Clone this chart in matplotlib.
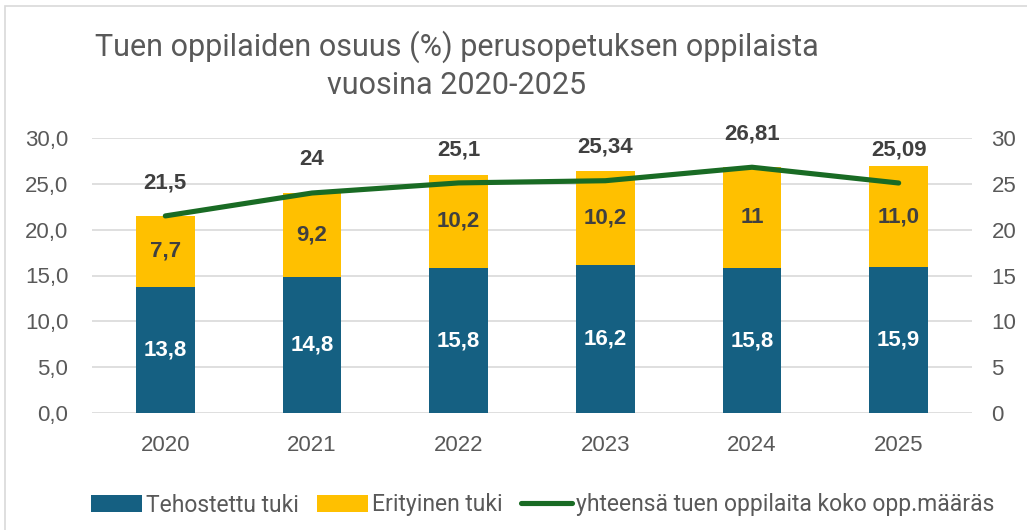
import numpy as np
import matplotlib
matplotlib.use('Agg')
import matplotlib.pyplot as plt
from matplotlib.patches import Rectangle

years = ['2020', '2021', '2022', '2023', '2024', '2025']
tehostettu = [13.8, 14.8, 15.8, 16.2, 15.8, 15.9]
erityinen = [7.7, 9.2, 10.2, 10.2, 11.0, 11.0]
yhteensa = [21.5, 24, 25.1, 25.34, 26.81, 25.09]
teh_labels = ['13,8', '14,8', '15,8', '16,2', '15,8', '15,9']
eri_labels = ['7,7', '9,2', '10,2', '10,2', '11', '11,0']
yht_labels = ['21,5', '24', '25,1', '25,34', '26,81', '25,09']
left_ticks = np.arange(0, 31, 5)

BLUE = '#156082'
YELLOW = '#FFC000'
GREEN = '#196B24'
GRAY = '#595959'
DARK = '#404040'
narrow = ['Liberation Sans Narrow', 'Roboto', 'DejaVu Sans']
sans = ['Liberation Sans', 'DejaVu Sans']

fig = plt.figure(figsize=(10.27, 5.30), dpi=100)
fig.patches.append(Rectangle((5/1027, -0.1), 1.2, 1 - 6/530 + 0.1, transform=fig.transFigure,
                             fill=False, edgecolor='#D9D9D9', linewidth=1.2))

ax = fig.add_axes([92/1027, 1 - 413/530, 880/1027, 275/530])
x = np.arange(len(years))
w = 0.4
ax.bar(x, tehostettu, w, color=BLUE, label='Tehostettu tuki', zorder=2)
ax.bar(x, erityinen, w, bottom=tehostettu, color=YELLOW, label='Erityinen tuki', zorder=2)

for i in range(len(years)):
    ax.text(x[i], tehostettu[i] / 2, teh_labels[i], ha='center', va='center',
            color='white', fontsize=16, fontweight='bold', family=sans, zorder=4)
    ax.text(x[i], tehostettu[i] + erityinen[i] / 2, eri_labels[i], ha='center', va='center',
            color=DARK, fontsize=16, fontweight='bold', family=sans, zorder=4)

ax.set_xlim(-0.5, len(years) - 0.5)
ax.set_ylim(0, 30)
ax.set_yticks(left_ticks)
ax.set_yticklabels([f'{v:.1f}'.replace('.', ',') for v in left_ticks])
ax.set_xticks(x)
ax.set_xticklabels(years)
ax.yaxis.grid(True, color='#D9D9D9', linewidth=1.2, zorder=0)
ax.set_axisbelow(True)
for s in ax.spines.values():
    s.set_visible(False)
ax.tick_params(length=0, labelsize=16, labelcolor=GRAY)
ax.tick_params(axis='y', pad=17)
ax.tick_params(axis='x', pad=16)
for lab in ax.get_xticklabels() + ax.get_yticklabels():
    lab.set_family(sans)

ax2 = ax.twinx()
ax2.set_ylim(0, 30)
ax2.set_yticks(left_ticks)
ax2.set_yticklabels([str(v) for v in left_ticks])
for s in ax2.spines.values():
    s.set_visible(False)
ax2.tick_params(length=0, labelsize=16, labelcolor=GRAY, pad=14)
for lab in ax2.get_yticklabels():
    lab.set_family(sans)
line, = ax2.plot(x, yhteensa, color=GREEN, linewidth=3.7, solid_capstyle='round',
                 label='yhteensä tuen oppilaita koko opp.määräs', zorder=3)
for i in range(len(years)):
    ax2.annotate(yht_labels[i], (x[i], yhteensa[i]), xytext=(0, 24), textcoords='offset points',
                 ha='center', va='center', color=DARK, fontsize=16, fontweight='bold', family=sans)

fig.text(457/1027, 1 - 47/530, 'Tuen oppilaiden osuus (%) perusopetuksen oppilaista',
         ha='center', va='center', fontsize=22, color=GRAY, family=narrow)
fig.text(457/1027, 1 - 85/530, 'vuosina 2020-2025',
         ha='center', va='center', fontsize=22, color=GRAY, family=narrow)

h1, l1 = ax.get_legend_handles_labels()
leg = fig.legend(h1 + [line], l1 + [line.get_label()], loc='center', ncol=3,
                 bbox_to_anchor=(543/1027, 1 - 505/530), frameon=False,
                 prop={'family': narrow, 'size': 16.5}, handlelength=2.2, handletextpad=0.2,
                 columnspacing=0.8)
for t in leg.get_texts():
    t.set_color(GRAY)

fig.savefig('out.png', dpi=100)
